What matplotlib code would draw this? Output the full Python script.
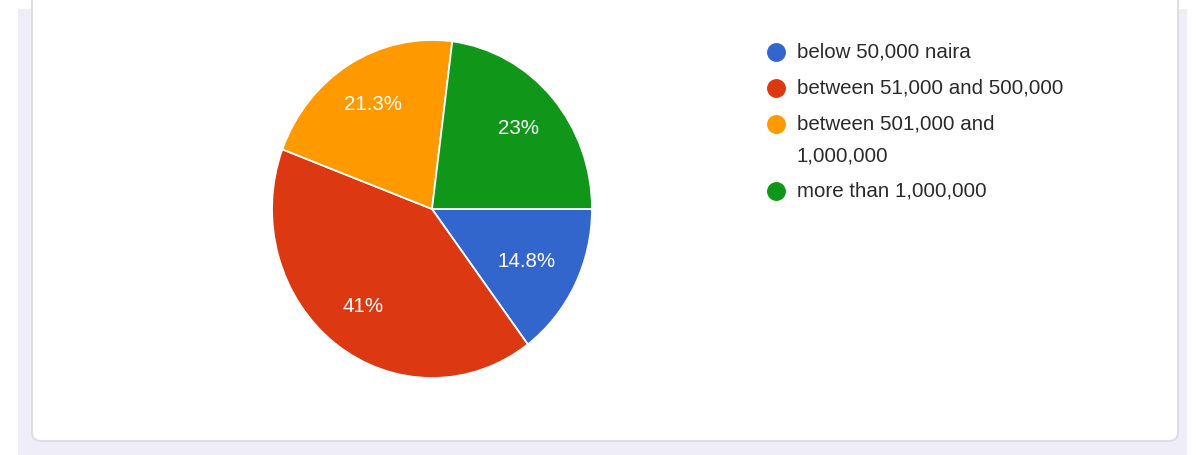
import matplotlib.pyplot as plt
from matplotlib.patches import Rectangle, FancyBboxPatch

plt.rcParams['font.family'] = ['Liberation Sans', 'DejaVu Sans']

# income brackets (share of respondents, %)
categories = ['below 50,000 naira', 'between 51,000 and 500,000',
              'between 501,000 and\n1,000,000', 'more than 1,000,000']
shares = [14.8, 41.0, 21.3, 23.0]
colors = ['#3366cc', '#dc3912', '#ff9900', '#109618']

W, H = 1197, 455
fig = plt.figure(figsize=(W / 100, H / 100), dpi=100)
fig.patch.set_facecolor('white')

# page background + card, drawn in pixel coordinates
bg = fig.add_axes([0, 0, 1, 1])
bg.set_xlim(0, W)
bg.set_ylim(H, 0)
bg.axis('off')
bg.add_patch(Rectangle((18, 9), 1169, 450, facecolor='#efeef8', edgecolor='none'))
bg.add_patch(FancyBboxPatch((32, -30), 1146, 471,
                            boxstyle='round,pad=0,rounding_size=9',
                            facecolor='white', edgecolor='#dddde6', linewidth=1.4))


def fmt(p):
    return f'{p:.1f}'.rstrip('0').rstrip('.') + '%'


# the pie, slightly taller than wide
ax = fig.add_axes([272 / W, (H - 378) / H, 320 / W, 338 / H])
wedges, texts, autotexts = ax.pie(
    shares, colors=colors, startangle=0, counterclock=False,
    autopct=fmt, pctdistance=0.72,
    wedgeprops=dict(edgecolor='white', linewidth=1.3),
    textprops=dict(color='white', fontsize=14.8))
ax.set_aspect('auto')
ax.set_xlim(-1.0, 1.0)
ax.set_ylim(-1.0, 1.0)
ax.axis('off')
autotexts[0].set_position((0.59, -0.31))

# legend, one row per slice; wrapped labels take extra lines
y = 51
for label, c in zip(categories, colors):
    bg.scatter([776], [y + 1], s=185, color=c, zorder=3, linewidths=0)
    lines = label.split('\n')
    for k, line in enumerate(lines):
        bg.text(797, y - 1 + 32 * k, line, fontsize=14.8, color='#2b2b2b',
                ha='left', va='center_baseline')
    y += 36 + 31 * (len(lines) - 1)

fig.savefig('out.png', dpi=100, facecolor='white')
